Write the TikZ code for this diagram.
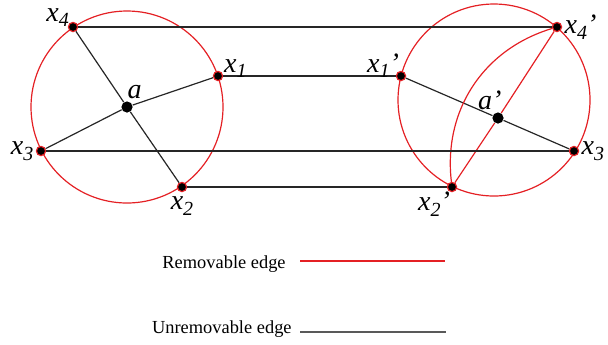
\documentclass[tikz,border=0pt]{standalone}
\usepackage{fontspec}
\setmainfont{Liberation Serif}
\usetikzlibrary{positioning}

\definecolor{edgered}{RGB}{228,32,36}
\newcommand{\xlab}[1]{x\raisebox{-0.45ex}{\fontsize{10}{10}\selectfont #1}}

\begin{document}
\begin{tikzpicture}[
    x=0.5pt, y=-0.5pt,
    vertex/.style={circle, fill=black, draw=edgered, line width=0.6pt, inner sep=0pt, minimum size=4.6pt},
    hub/.style={circle, fill=black, inner sep=0pt, minimum size=5.6pt},
    ring/.style={draw=edgered, line width=0.6pt},
    fixed/.style={draw=black!85, line width=0.6pt},
    removable/.style={draw=edgered, line width=0.6pt},
    lbl/.style={font=\fontsize{14}{14}\selectfont\itshape, inner sep=1pt},
    legend/.style={font=\fontsize{9.2}{11}\selectfont, inner sep=0pt},
]
    \useasboundingbox (0,0) rectangle (608,344);

    % left graph
    \draw[ring] (127,107) circle[radius=48pt];
    \node[hub] (a) at (127,107) {};
    \node[vertex] (x1) at (218,76) {};
    \node[vertex] (x2) at (182,187) {};
    \node[vertex] (x3) at (41,151) {};
    \node[vertex] (x4) at (73,27) {};

    % right graph
    \draw[ring] (494,100) circle[radius=48pt];
    \node[hub] (ap) at (498,118) {};
    \node[vertex] (y1) at (401,76) {};
    \node[vertex] (y2) at (452,187) {};
    \node[vertex] (y3) at (574,151) {};
    \node[vertex] (y4) at (557,27) {};

    % spokes
    \draw[fixed] (a) -- (x1);
    \draw[fixed] (a) -- (x2);
    \draw[fixed] (a) -- (x3);
    \draw[fixed] (a) -- (x4);
    \draw[fixed] (ap) -- (y1);
    \draw[fixed] (ap) -- (y3);
    \draw[removable] (ap) -- (y2);
    \draw[removable] (ap) -- (y4);
    \draw[removable] (y2) to[bend left=40] (y4);

    % matching edges
    \draw[fixed] (x4) -- (y4);
    \draw[fixed] (x1) -- (y1);
    \draw[fixed] (x3) -- (y3);
    \draw[fixed] (x2) -- (y2);

    % labels
    \node[lbl, above left=-3pt and -1pt of x4] (lx4) {\xlab{4}};
    \node[lbl, above right=-4pt and 0pt of x1] (lx1) {\xlab{1}};
    \node[lbl, above right=1pt and -3pt of a] (la) {a};
    \node[lbl, left=0pt of x3] (lx3) {\xlab{3}};
    \node[lbl, below=1pt of x2] (lx2) {\xlab{2}};
    \node[lbl, above left=-4pt and -2pt of y1] (ly1) {\xlab{1}'};
    \node[lbl, right=0pt of y4] (ly4) {\xlab{4}'};
    \node[lbl, above left=1pt and -5pt of ap] (lap) {a'};
    \node[lbl, right=0pt of y3] (ly3) {\xlab{3}};
    \node[lbl, below left=-0.5pt and -2pt of y2] (ly2) {\xlab{2}'};

    % legend
    \node[legend, anchor=base east] (remtxt) at (286,268) {Removable edge};
    \coordinate (rem0) at (300,261);
    \coordinate (rem1) at (445,261);
    \draw[removable] (rem0) -- (rem1);
    \node[legend, anchor=base east] (unrtxt) at (292,333) {Unremovable edge};
    \coordinate (unr0) at (300,332);
    \coordinate (unr1) at (446,332);
    \draw[fixed, draw=black!65] (unr0) -- (unr1);
\end{tikzpicture}
\end{document}
